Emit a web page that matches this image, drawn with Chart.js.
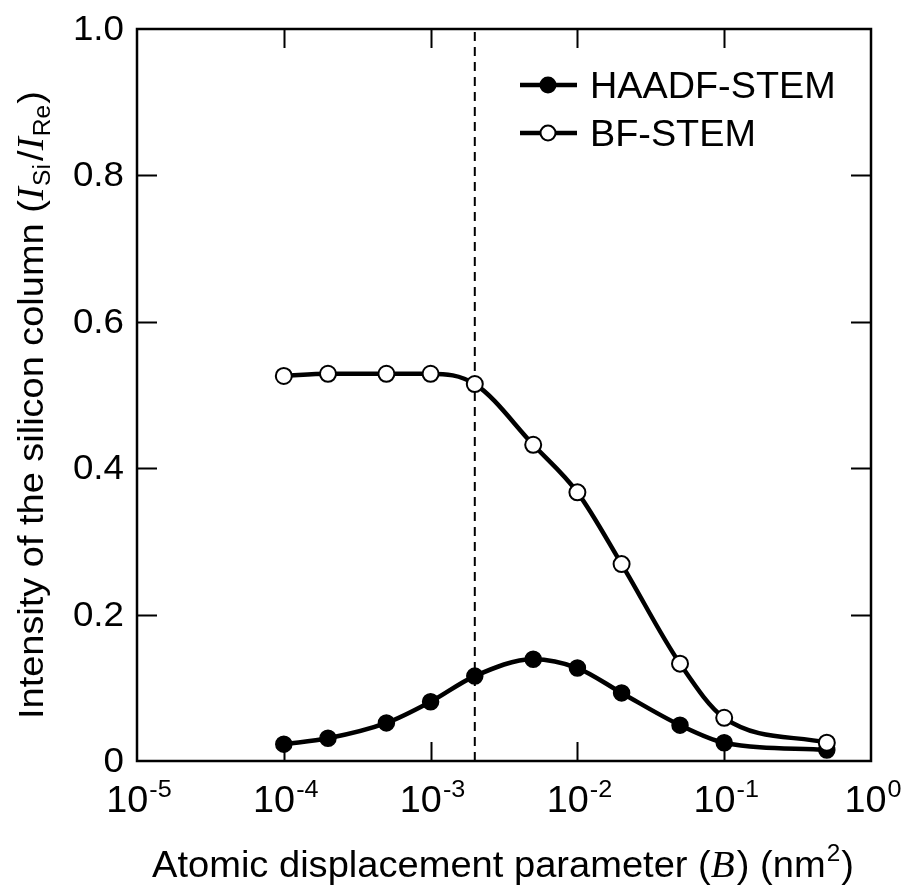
<!DOCTYPE html>
<html><head><meta charset="utf-8">
<script src="https://cdn.jsdelivr.net/npm/chart.js@4/dist/chart.umd.min.js"></script>
<style>html,body{margin:0;padding:0;background:#fff}#wrap{width:904px;height:887px;position:relative}canvas{display:block}</style>
</head><body><div id="wrap"><canvas id="c" width="904" height="887" style="width:904px;height:887px"></canvas></div>
<script>
// ---- data ----
const bValues = [1e-4, 2e-4, 5e-4, 1e-3, 2e-3, 5e-3, 1e-2, 2e-2, 5e-2, 1e-1, 5e-1];
const haadfValues = [0.023, 0.031, 0.052, 0.081, 0.116, 0.139, 0.127, 0.093, 0.049, 0.025, 0.015];
const bfValues = [0.526, 0.529, 0.529, 0.529, 0.515, 0.432, 0.367, 0.269, 0.133, 0.059, 0.025];
const seriesNames = ['HAADF-STEM', 'BF-STEM'];
const refLineB = [2e-3, 2e-3];
const refLineY = [0, 1];
const xTickValues = [1e-5, 1e-4, 1e-3, 1e-2, 1e-1, 1e0];
const xTickExponents = ['-5', '-4', '-3', '-2', '-1', '0'];
const yTickValues = [0, 0.2, 0.4, 0.6, 0.8, 1.0];
const yTickLabels = ['0', '0.2', '0.4', '0.6', '0.8', '1.0'];

const toPts = (xs, ys) => xs.map((x, i) => ({x, y: ys[i]}));
const SANS = '"Liberation Sans", Arial, sans-serif';
const SERIF = '"Liberation Serif", "Times New Roman", serif';

function richWidth(ctx, segs, sx) {
  let w = 0;
  for (const s of segs) { ctx.font = s.font; w += ctx.measureText(s.text).width + (s.gap || 0); }
  return w * sx;
}
function drawRich(ctx, segs, x, y, sx) {
  ctx.save();
  ctx.translate(x, y);
  ctx.scale(sx, 1);
  let cx = 0;
  for (const s of segs) {
    ctx.font = s.font;
    ctx.fillText(s.text, cx, s.dy || 0);
    cx += ctx.measureText(s.text).width + (s.gap || 0);
  }
  ctx.restore();
}

const decor = {
  id: 'decor',
  beforeDatasetsDraw(chart) {
    const {ctx, chartArea: a, scales: {x, y}} = chart;
    ctx.save();
    ctx.strokeStyle = '#000';
    ctx.lineWidth = 2.5;
    ctx.strokeRect(a.left, a.top, a.right - a.left, a.bottom - a.top);
    ctx.lineWidth = 2;
    ctx.beginPath();
    xTickValues.forEach(v => {
      const px = Math.round(x.getPixelForValue(v)) + 0.5;
      if (px < a.left + 3 || px > a.right - 3) return;
      ctx.moveTo(px, a.bottom); ctx.lineTo(px, a.bottom - 19);
      ctx.moveTo(px, a.top); ctx.lineTo(px, a.top + 19);
    });
    yTickValues.forEach(v => {
      const py = Math.round(y.getPixelForValue(v)) + 0.5;
      if (py < a.top + 3 || py > a.bottom - 3) return;
      ctx.moveTo(a.left, py); ctx.lineTo(a.left + 20, py);
      ctx.moveTo(a.right, py); ctx.lineTo(a.right - 20, py);
    });
    ctx.stroke();
    ctx.restore();
  },
  afterDraw(chart) {
    const {ctx, chartArea: a, scales: {x, y}} = chart;
    ctx.save();
    ctx.fillStyle = '#000';
    ctx.textAlign = 'left';
    ctx.textBaseline = 'alphabetic';
    // y tick labels (right aligned)
    yTickValues.forEach((v, i) => {
      const segs = [{text: yTickLabels[i], font: '35px ' + SANS}];
      const w = richWidth(ctx, segs, 1.05);
      drawRich(ctx, segs, 124 - w, y.getPixelForValue(v) + 11, 1.05);
    });
    // x tick labels 10^n
    xTickValues.forEach((v, i) => {
      const segs = [{text: '10', font: '36px ' + SANS, gap: 1},
                    {text: xTickExponents[i], font: '24px ' + SANS, dy: -15}];
      const w = richWidth(ctx, segs, 1.05);
      drawRich(ctx, segs, x.getPixelForValue(v) - w / 2 + 2, 812, 1.05);
    });
    // x title
    const xs = [
      {text: 'Atomic displacement parameter (', font: '36px ' + SANS},
      {text: 'B', font: 'italic 37px ' + SERIF, gap: 2},
      {text: ') (nm', font: '36px ' + SANS, gap: 1},
      {text: '2', font: '23px ' + SANS, dy: -16, gap: 1},
      {text: ')', font: '36px ' + SANS}
    ];
    const xw = richWidth(ctx, xs, 1.06);
    drawRich(ctx, xs, 152, 877, 702 / (xw / 1.06));
    // y title
    const ys = [
      {text: 'Intensity of the silicon column (', font: '35.5px ' + SANS},
      {text: 'I', font: 'italic 37px ' + SERIF, gap: 1},
      {text: 'Si', font: '23px ' + SANS, dy: 7, gap: 3},
      {text: '/', font: '35.5px ' + SANS},
      {text: 'I', font: 'italic 37px ' + SERIF, gap: 1},
      {text: 'Re', font: '23px ' + SANS, dy: 7, gap: 1},
      {text: ')', font: '35.5px ' + SANS}
    ];
    const yw = richWidth(ctx, ys, 1);
    ctx.translate(43, 0);
    ctx.rotate(-Math.PI / 2);
    drawRich(ctx, ys, -719, 0, 628 / yw);
    ctx.restore();

    // legend
    ctx.save();
    const rows = [85, 133];
    chart.data.datasets.slice(0, 2).forEach((ds, i) => {
      const ly = rows[i];
      ctx.strokeStyle = '#000';
      ctx.lineWidth = 4.5;
      ctx.beginPath(); ctx.moveTo(520, ly); ctx.lineTo(577, ly); ctx.stroke();
      ctx.beginPath(); ctx.arc(548, ly, 7.5, 0, Math.PI * 2);
      ctx.fillStyle = ds.pointBackgroundColor; ctx.fill();
      ctx.lineWidth = 2; ctx.stroke();
      ctx.fillStyle = '#000';
      ctx.textAlign = 'left'; ctx.textBaseline = 'alphabetic';
      drawRich(ctx, [{text: ds.label, font: '36px ' + SANS}], 590, ly + 13, 1.05);
    });
    ctx.restore();
  }
};

new Chart(document.getElementById('c'), {
  type: 'line',
  data: {
    datasets: [
      {label: seriesNames[0], data: toPts(bValues, haadfValues), borderColor: '#000', borderWidth: 4.5,
       pointRadius: 8, pointBackgroundColor: '#000', pointBorderColor: '#000', pointBorderWidth: 1.5,
       cubicInterpolationMode: 'monotone', order: 2},
      {label: seriesNames[1], data: toPts(bValues, bfValues), borderColor: '#000', borderWidth: 4.5,
       pointRadius: 8, pointBackgroundColor: '#fff', pointBorderColor: '#000', pointBorderWidth: 2,
       cubicInterpolationMode: 'monotone', order: 1},
      {label: 'ref', data: toPts(refLineB, refLineY), borderColor: '#000', borderWidth: 2,
       borderDash: [9, 6], pointRadius: 0, tension: 0, order: 3}
    ]
  },
  options: {
    responsive: false,
    animation: false,
    devicePixelRatio: 1,
    layout: {padding: {left: 137, top: 29, right: 33, bottom: 126}},
    scales: {
      x: {type: 'logarithmic', min: 1e-5, max: 1, display: false},
      y: {type: 'linear', min: 0, max: 1, display: false}
    },
    plugins: {legend: {display: false}, tooltip: {enabled: false}}
  },
  plugins: [decor]
});
</script>
</body></html>
